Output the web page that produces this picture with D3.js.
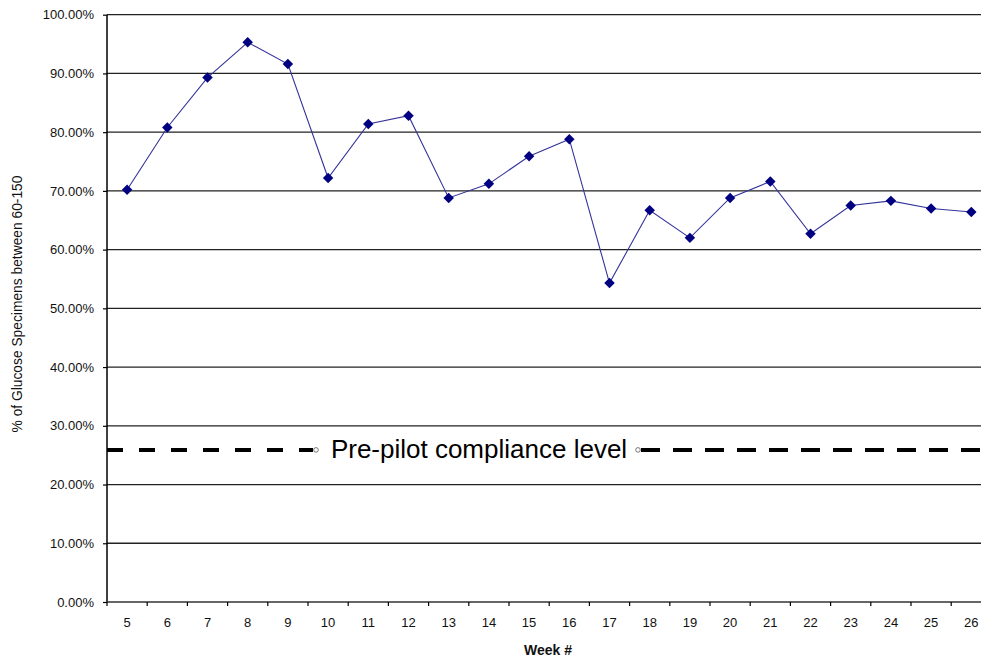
<!DOCTYPE html>
<html>
<head>
<meta charset="utf-8">
<script src="https://cdn.jsdelivr.net/npm/d3@7"></script>
<style>
  html, body { margin: 0; padding: 0; background: #fff; }
  svg { display: block; }
  text { font-family: Arial, "Liberation Sans", sans-serif; }
</style>
</head>
<body>
<svg id="chart" width="981" height="659"></svg>
<script>
// ---- Data ----
const weeks = [5,6,7,8,9,10,11,12,13,14,15,16,17,18,19,20,21,22,23,24,25,26];
const compliance = [0.702,0.808,0.893,0.953,0.916,0.722,0.814,0.828,0.688,0.712,0.759,0.788,0.543,0.667,0.620,0.688,0.716,0.627,0.675,0.683,0.670,0.664];
const yTicks = [0,0.1,0.2,0.3,0.4,0.5,0.6,0.7,0.8,0.9,1.0];
const baselineValue = 0.259;
const baselineLabel = "Pre-pilot compliance level";
const xTitle = "Week #";
const yTitle = "% of Glucose Specimens between 60-150";

// ---- Layout ----
const svg = d3.select("#chart");
const plotLeft = 107, plotRight = 991.4, plotTop = 14.7, plotBottom = 602;

const x = d3.scaleBand().domain(weeks).range([plotLeft, plotRight]).padding(0);
const y = d3.scaleLinear().domain([0, 1]).range([plotBottom, plotTop]);

// gridlines
svg.append("g").selectAll("line").data(yTicks.filter(d => d > 0)).join("line")
  .attr("x1", plotLeft).attr("x2", plotRight)
  .attr("y1", d => y(d)).attr("y2", d => y(d))
  .attr("stroke", "#222").attr("stroke-width", 1.3);

// y axis
const yAxis = svg.append("g").attr("transform", `translate(${plotLeft},0)`)
  .call(d3.axisLeft(y).tickValues(yTicks).tickFormat(d3.format(".2%")).tickSize(4).tickPadding(9));
yAxis.select(".domain").attr("stroke", "#000").attr("stroke-width", 1.5).attr("d", `M0,${plotTop}V${plotBottom}`);
yAxis.selectAll(".tick line").attr("stroke", "#000").attr("stroke-width", 1.2);
yAxis.selectAll(".tick text").attr("font-size", 13).attr("fill", "#111")
  .attr("font-family", "Arial, 'Liberation Sans', sans-serif");

// x axis (ticks between categories)
const xg = svg.append("g").attr("transform", `translate(0,${plotBottom})`);
xg.append("line").attr("x1", plotLeft).attr("x2", plotRight).attr("y1", 0).attr("y2", 0)
  .attr("stroke", "#333").attr("stroke-width", 1.5);
const bounds = weeks.map(w => x(w)).concat([x(weeks[weeks.length-1]) + x.bandwidth()]);
xg.selectAll("line.tk").data(bounds).join("line").attr("class", "tk")
  .attr("x1", d => d).attr("x2", d => d).attr("y1", 0).attr("y2", 4)
  .attr("stroke", "#000").attr("stroke-width", 1.2);
xg.selectAll("text").data(weeks).join("text")
  .attr("x", d => x(d) + x.bandwidth()/2).attr("y", 25)
  .attr("text-anchor", "middle").attr("font-size", 13).attr("fill", "#111")
  .text(d => d);

// baseline dashed line with label
const by = y(baselineValue);
const textCenter = 479;
const gapL = 316, gapR = 638;
svg.append("line").attr("x1", plotLeft).attr("x2", gapL - 3).attr("y1", by).attr("y2", by)
  .attr("stroke", "#000").attr("stroke-width", 4).attr("stroke-dasharray", "16,16");
svg.append("line").attr("x1", gapR + 3).attr("x2", plotRight).attr("y1", by).attr("y2", by)
  .attr("stroke", "#000").attr("stroke-width", 4).attr("stroke-dasharray", "19,13");
[gapL, gapR].forEach(cx => {
  svg.append("circle").attr("cx", cx).attr("cy", by).attr("r", 2.3)
    .attr("fill", "#fff").attr("stroke", "#555").attr("stroke-width", 0.8);
});
svg.append("text").attr("x", textCenter).attr("y", by + 8)
  .attr("text-anchor", "middle").attr("font-size", 26).attr("fill", "#000")
  .text(baselineLabel);

// series line
const line = d3.line().x((d, i) => x(weeks[i]) + x.bandwidth()/2).y(d => y(d));
svg.append("path").datum(compliance).attr("d", line)
  .attr("fill", "none").attr("stroke", "#33339a").attr("stroke-width", 1.1);

// diamond markers
const diamond = d3.symbol().type(d3.symbolDiamond2).size(70);
svg.append("g").selectAll("path").data(compliance).join("path")
  .attr("d", diamond)
  .attr("transform", (d, i) => `translate(${x(weeks[i]) + x.bandwidth()/2},${y(d)})`)
  .attr("fill", "#000080");

// axis titles
svg.append("text").attr("transform", `translate(22,304) rotate(-90)`)
  .attr("text-anchor", "middle").attr("font-size", 13.8).attr("fill", "#111")
  .text(yTitle);
svg.append("text").attr("x", 548).attr("y", 655)
  .attr("text-anchor", "middle").attr("font-size", 14).attr("font-weight", "bold").attr("fill", "#111")
  .text(xTitle);
</script>
</body>
</html>
